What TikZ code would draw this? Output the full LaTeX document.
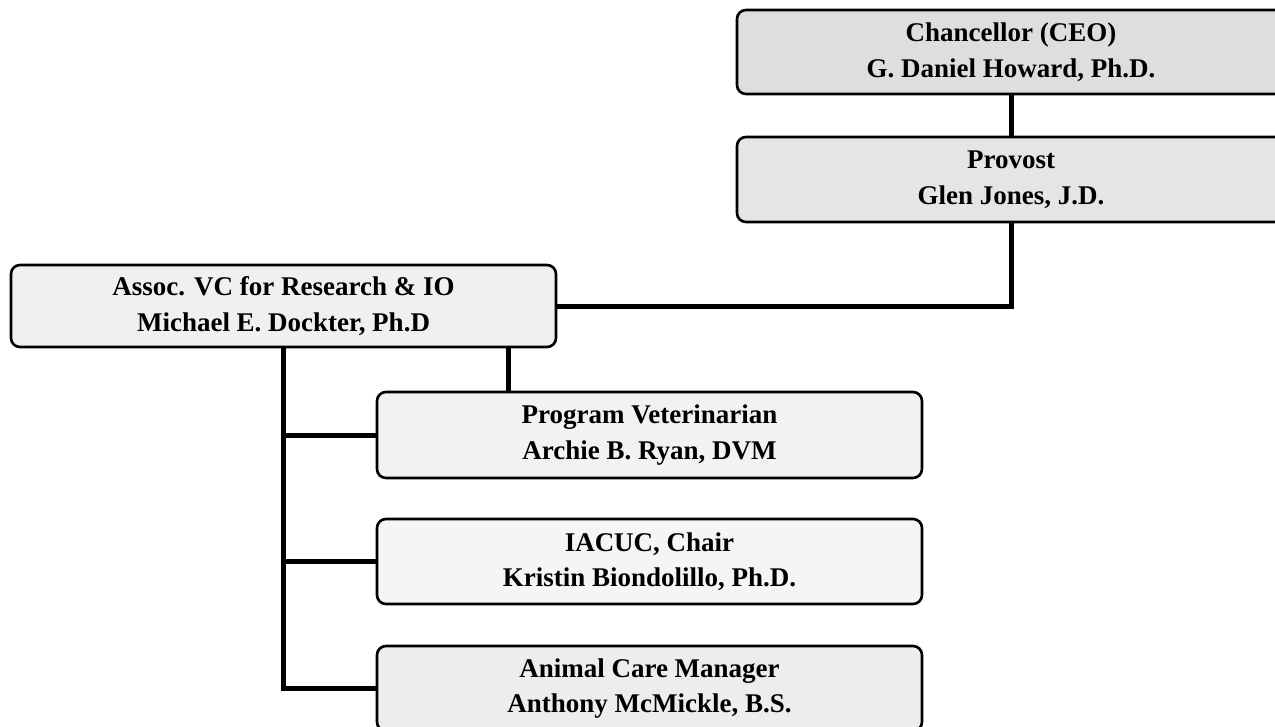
\documentclass[tikz,border=0pt]{standalone}
\usepackage{fontspec}
\setmainfont{Liberation Serif}
\begin{document}
\begin{tikzpicture}[x=1pt,y=-1pt,
  orgbox/.style={draw=black, line width=2.6pt, rounded corners=9pt, fill=#1,
    minimum width=545pt, minimum height=84pt, align=center, inner sep=0pt,
    font=\fontsize{27}{35.5}\selectfont\bfseries},
  orgbox/.default={black!5},
  link/.style={line width=5pt, draw=black}]
\useasboundingbox (0,0) rectangle (1275,726);
\clip (0,0) rectangle (1275,726);
\fill[white] (0,0) rectangle (1275,726);

\node[orgbox=black!13, minimum width=548pt] (chan) at (1011,52) {Chancellor (CEO)\\G. Daniel Howard, Ph.D.};
\node[orgbox=black!10, minimum width=548pt, minimum height=85pt] (prov) at (1011,179.5) {Provost\\Glen Jones, J.D.};
\node[orgbox=black!6, minimum height=82pt] (assoc) at (283.5,306) {Assoc. VC for Research \& IO\\Michael E. Dockter, Ph.D};
\node[orgbox=black!5, minimum height=86pt] (vet) at (649.5,435) {Program Veterinarian\\Archie B. Ryan, DVM};
\node[orgbox=black!4, minimum height=85pt] (iacuc) at (649.5,561.5) {IACUC, Chair\\Kristin Biondolillo, Ph.D.};
\node[orgbox=black!7, minimum height=85pt] (acm) at (649.5,688.5) {Animal Care Manager\\Anthony McMickle, B.S.};

\coordinate (vx) at (508,0);
\coordinate (spine) at (283,0);

\draw[link] (chan.south) -- (prov.north);
\draw[link] (prov.south) |- (assoc.east);
\draw[link] (assoc.south -| vx) -- (vet.north -| vx);
\draw[link] (assoc.south -| spine) |- (acm.west);
\draw[link] (vet.west -| spine) -- (vet.west);
\draw[link] (iacuc.west -| spine) -- (iacuc.west);
\end{tikzpicture}
\end{document}
